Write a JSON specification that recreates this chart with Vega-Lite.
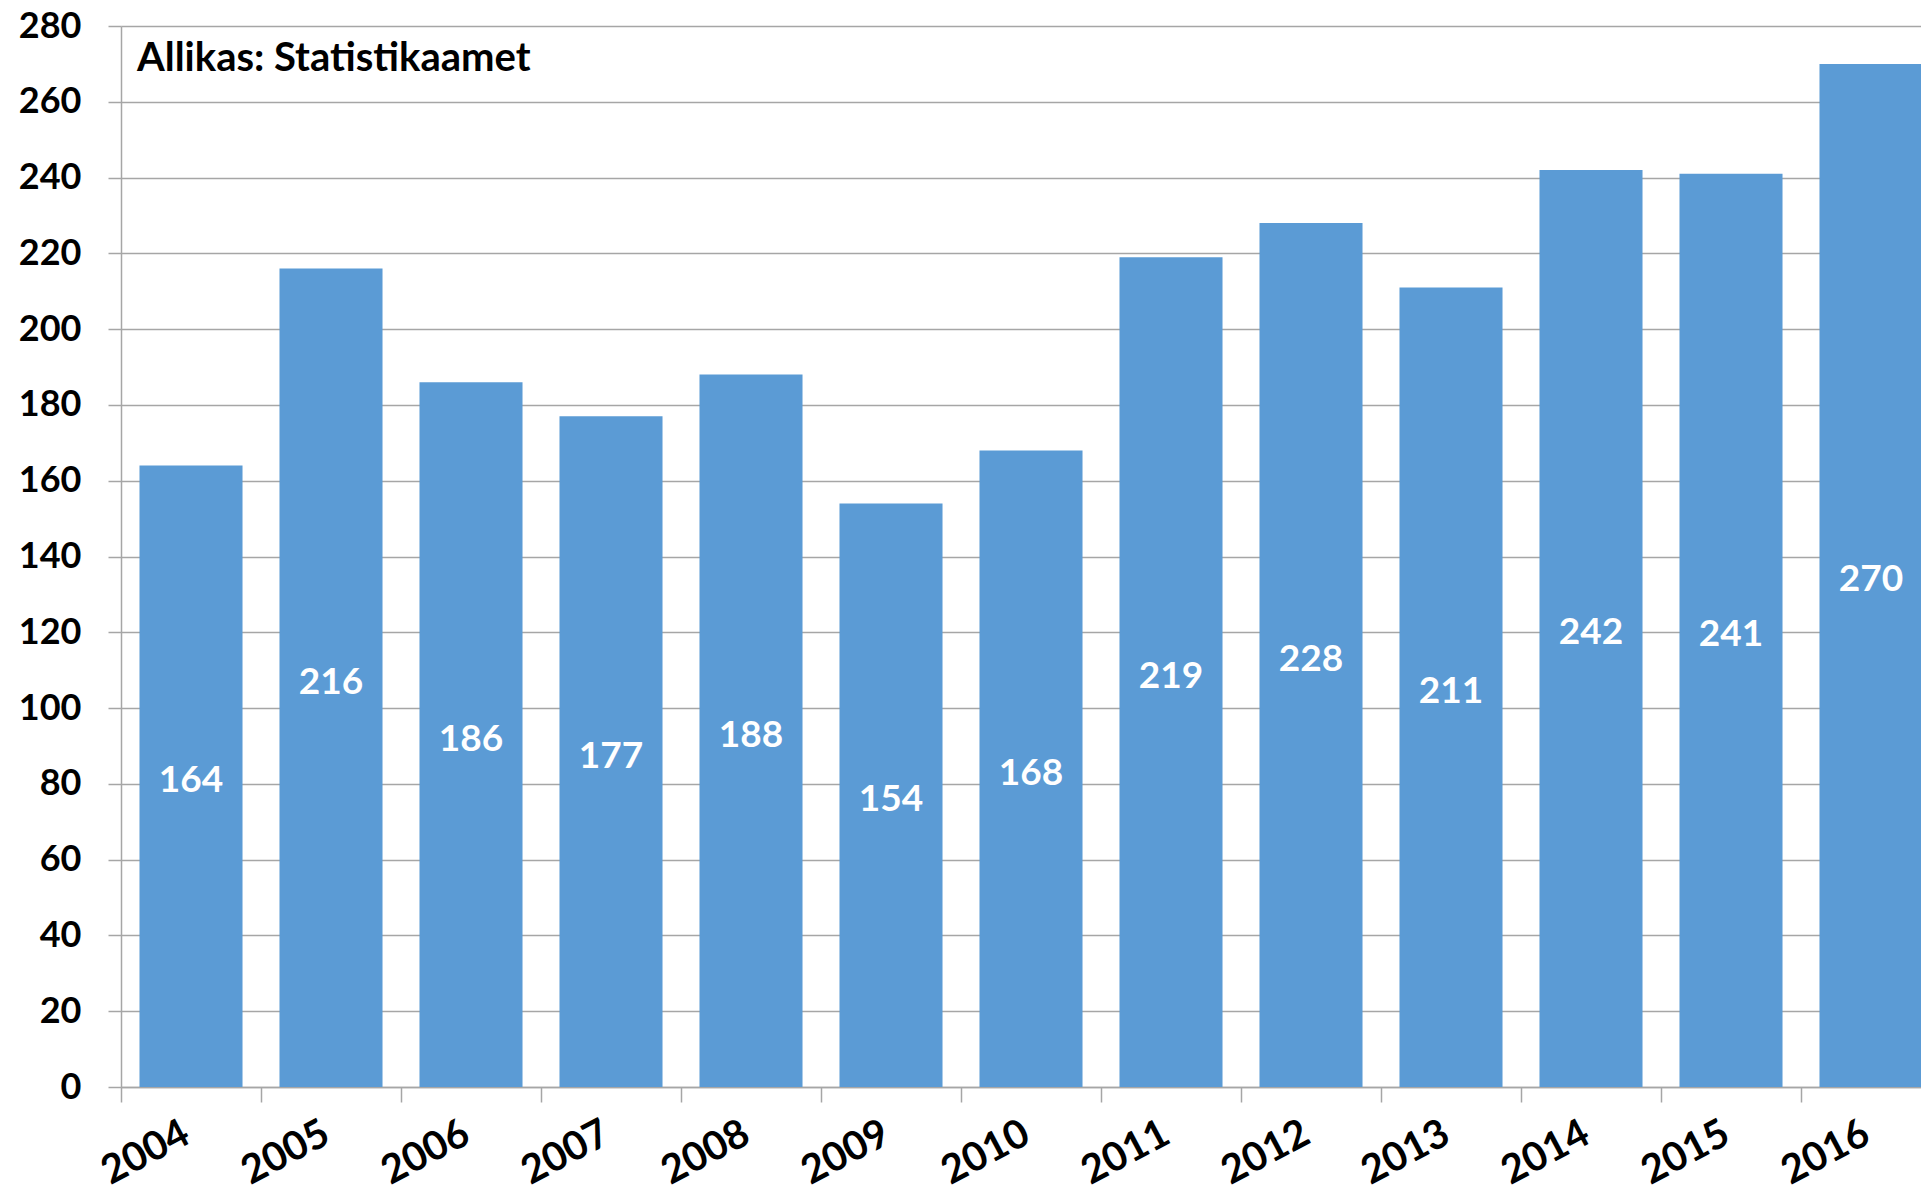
{
  "$schema": "https://vega.github.io/schema/vega-lite/v6.json",
  "width": 1800,
  "height": 1061,
  "autosize": {"type": "none"},
  "padding": {"left": 121, "top": 26, "right": 0, "bottom": 99},
  "background": "white",
  "title": {
    "text": "Allikas: Statistikaamet",
    "anchor": "start",
    "frame": "group",
    "orient": "top",
    "offset": -32,
    "dx": 16,
    "dy": 59,
    "baseline": "middle",
    "font": "Lato",
    "fontSize": 40,
    "fontWeight": "bold",
    "color": "black"
  },
  "data": {
    "values": [
      {"year": "2004", "value": 164},
      {"year": "2005", "value": 216},
      {"year": "2006", "value": 186},
      {"year": "2007", "value": 177},
      {"year": "2008", "value": 188},
      {"year": "2009", "value": 154},
      {"year": "2010", "value": 168},
      {"year": "2011", "value": 219},
      {"year": "2012", "value": 228},
      {"year": "2013", "value": 211},
      {"year": "2014", "value": 242},
      {"year": "2015", "value": 241},
      {"year": "2016", "value": 270}
    ]
  },
  "encoding": {
    "x": {
      "field": "year",
      "type": "nominal",
      "sort": null,
      "scale": {"range": [0, 1820], "paddingInner": 0.264, "paddingOuter": 0.132},
      "axis": {
        "title": null,
        "domainColor": "#a6a6a6",
        "domainWidth": 1.5,
        "tickColor": "#a6a6a6",
        "tickWidth": 1.5,
        "tickSize": 15,
        "tickOffset": -70,
        "labelAngle": -28,
        "labelAlign": "right",
        "labelBaseline": "top",
        "labelPadding": 11,
        "labelFont": "Lato",
        "labelFontSize": 40,
        "labelFontWeight": "bold",
        "labelColor": "black",
        "labelOffset": 56
      }
    }
  },
  "layer": [
    {
      "mark": {"type": "bar", "color": "#5b9bd5"},
      "encoding": {
        "y": {
          "field": "value",
          "type": "quantitative",
          "scale": {"domain": [0, 280], "nice": false},
          "axis": {
            "title": null,
            "values": [0, 20, 40, 60, 80, 100, 120, 140, 160, 180, 200, 220, 240, 260, 280],
            "grid": true,
            "gridColor": "#a6a6a6",
            "gridWidth": 1.5,
            "domainColor": "#a6a6a6",
            "domainWidth": 1.5,
            "tickColor": "#a6a6a6",
            "tickWidth": 1.5,
            "tickSize": 13,
            "labelPadding": 27,
            "labelFont": "Lato",
            "labelFontSize": 36,
            "labelFontWeight": "bold",
            "labelColor": "black"
          }
        }
      }
    },
    {
      "transform": [{"calculate": "datum.value / 2", "as": "mid"}],
      "mark": {"type": "text", "color": "white", "font": "Lato", "fontSize": 37, "fontWeight": "bold", "baseline": "middle", "align": "center", "dy": 5},
      "encoding": {
        "y": {"field": "mid", "type": "quantitative"},
        "text": {"field": "value", "type": "quantitative"}
      }
    }
  ],
  "config": {"view": {"stroke": null}, "axis": {"labelFlush": false, "labelOverlap": false}}
}
